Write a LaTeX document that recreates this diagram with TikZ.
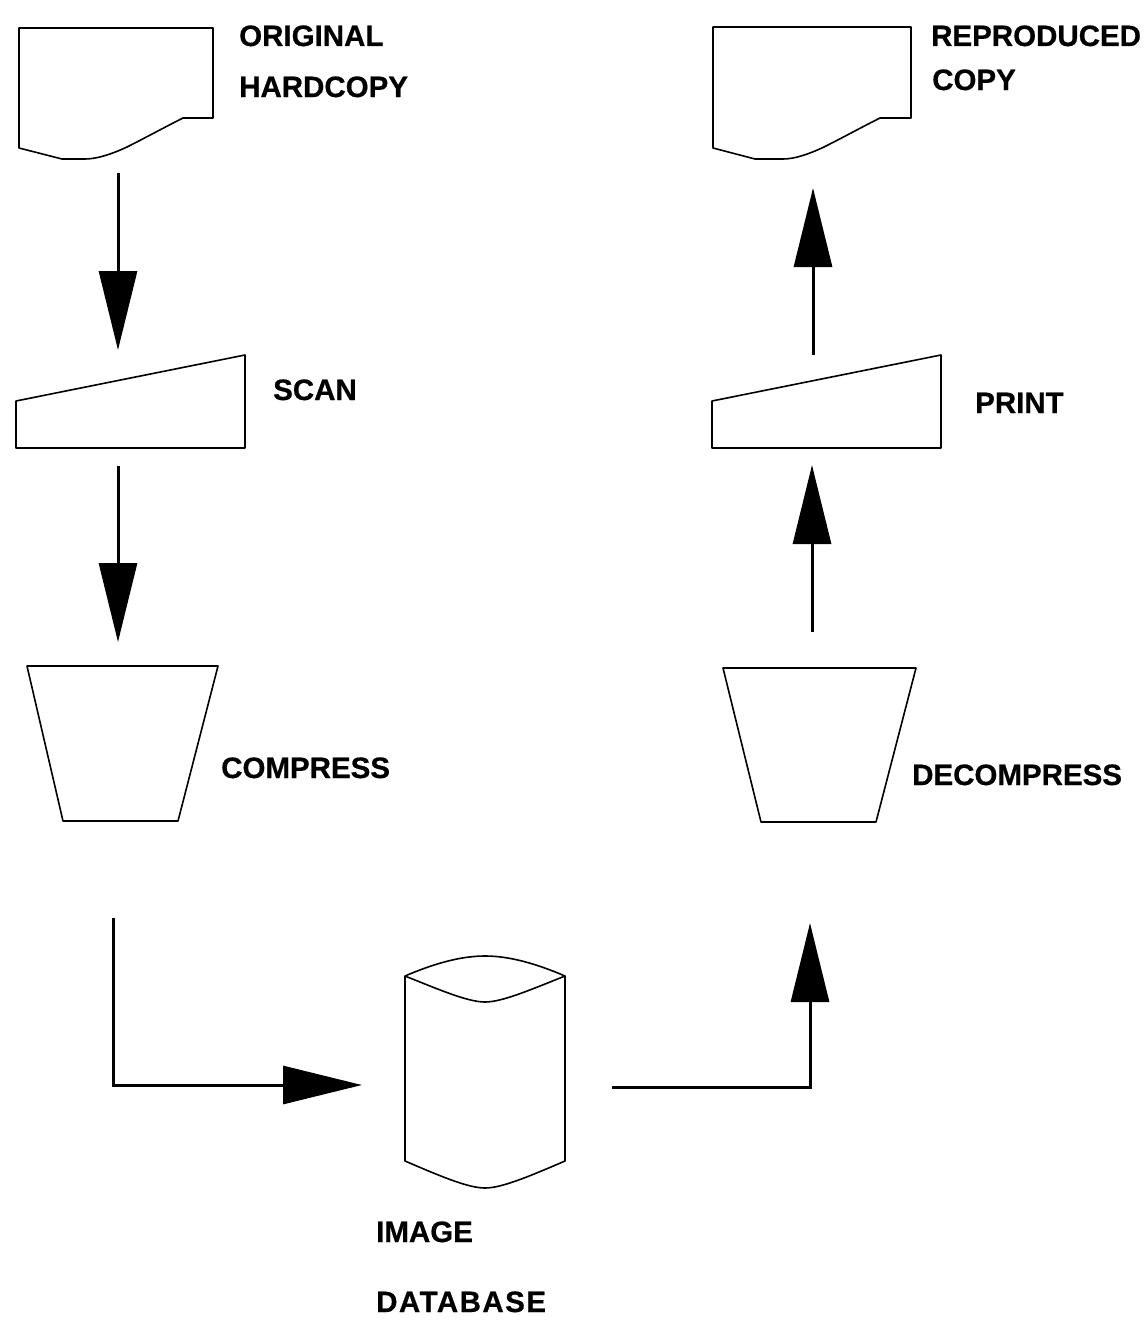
\documentclass[tikz,border=0pt]{standalone}
\usepackage{fontspec}
\setmainfont{Liberation Sans}
\newfontfamily\labfont{Liberation Sans Bold}[FakeBold=0.6]
\usetikzlibrary{arrows.meta}
\tikzset{
  shp/.style={line width=1.6pt, line join=round},
  conn/.style={line width=3pt, -{Triangle[length=79pt,width=38pt]}},
  lab/.style={font=\labfont\fontsize{29.5}{30}\selectfont, anchor=base west, inner sep=0pt}
}
\begin{document}
\begin{tikzpicture}[x=1pt,y=-1pt]
\useasboundingbox[fill=white] (0,0) rectangle (1146,1322);

% original hardcopy document
\draw[shp] (19,28) -- (213,28) -- (213,118) -- (183,118)
  .. controls (165,127) and (145,138) .. (127,147)
  .. controls (112,154) and (97,159) .. (85,159) -- (62,159) -- (19,148) -- cycle;
\node[lab] (t1a) at (239,46) {ORIGINAL};
\node[lab] (t1b) at (239,97) {HARDCOPY};

% reproduced copy document
\draw[shp] (713,27) -- (911,27) -- (911,118) -- (880,118)
  .. controls (862,127) and (842,138) .. (824,147)
  .. controls (809,154) and (795,159) .. (783,159) -- (755,159) -- (713,148) -- cycle;
\node[lab] (t2a) at (931,46) {REPRODUCED};
\node[lab] (t2b) at (932,90) {COPY};

% scan
\draw[shp] (16,401) -- (245,355) -- (245,448) -- (16,448) -- cycle;
\node[lab] (t3) at (273,400) {SCAN};

% print
\draw[shp] (712,401) -- (941,355) -- (941,448) -- (712,448) -- cycle;
\node[lab] (t4) at (975,413) {PRINT};

% compress
\draw[shp] (27,666) -- (218,666) -- (178,821) -- (63,821) -- cycle;
\node[lab] (t5) at (221,778) {COMPRESS};

% decompress
\draw[shp] (723,668) -- (916,668) -- (876,822) -- (761,822) -- cycle;
\node[lab] (t6) at (912,785) {DECOMPRESS};

% image database (cylinder)
\draw[shp] (405,976) -- (405,1161)
  .. controls (440,1176) and (468,1188) .. (485,1188)
  .. controls (502,1188) and (530,1176) .. (565,1161) -- (565,976)
  .. controls (530,961) and (505,956) .. (485,956)
  .. controls (465,956) and (440,961) .. (405,976) -- cycle;
\draw[shp] (405,976) .. controls (440,990) and (468,1002) .. (485,1002)
  .. controls (502,1002) and (530,990) .. (565,976);
\node[lab] (t7a) at (376,1242) {IMAGE};
\node[lab] (t7b) at (376,1312) {\addfontfeature{LetterSpace=5}DATABASE};

% connector end points
\coordinate (origOut) at (118,173);
\coordinate (scanIn) at (118,350);
\coordinate (scanOut) at (118,466);
\coordinate (cmpIn) at (118,642);
\coordinate (cmpOut) at (113,918);
\coordinate (dbIn) at (362,1085);
\coordinate (dbOut) at (612,1087);
\coordinate (dcmIn) at (810,923);
\coordinate (dcmOut) at (812,632);
\coordinate (prnIn) at (812,465);
\coordinate (prnOut) at (813,355);
\coordinate (repIn) at (813,188);

\draw[conn] (origOut) -- (scanIn);
\draw[conn] (scanOut) -- (cmpIn);
\draw[conn] (cmpOut) |- (dbIn);
\draw[conn] (dbOut) -| (dcmIn);
\draw[conn] (dcmOut) -- (prnIn);
\draw[conn] (prnOut) -- (repIn);
\end{tikzpicture}
\end{document}
